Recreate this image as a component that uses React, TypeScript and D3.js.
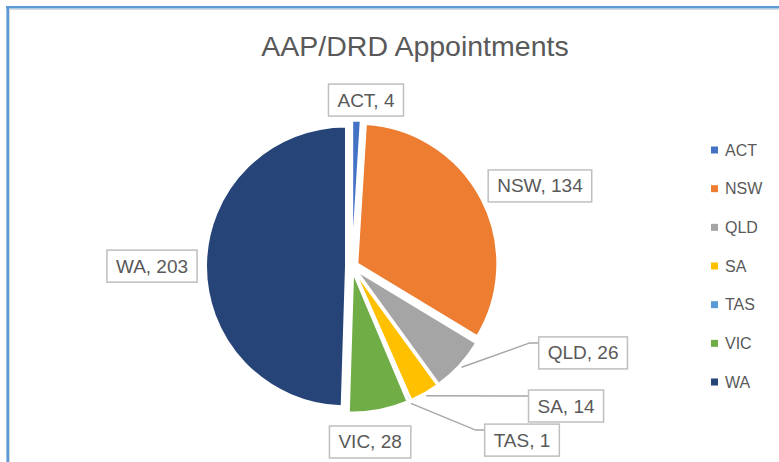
import { useEffect, useRef } from "react";
import * as d3 from "d3";

const states = ["ACT", "NSW", "QLD", "SA", "TAS", "VIC", "WA"];
const appointments = [4, 134, 26, 14, 1, 28, 203];
const sliceColors = ["#4472c4", "#ed7d31", "#a5a5a5", "#ffc000", "#5b9bd5", "#70ad47", "#264478"];

// label placement around the pie (degrees clockwise from 12 o'clock, px from centre)
const labelAngle = [4.8, 66.8, 110.5, 123.1, 135.6, 174.1, 270.1];
const labelDist = [167, 204.5, 246.7, 255.5, 243, 176.4, 200];
const hasLeader = [false, false, true, true, true, false, false];

export default function App() {
  const svgRef = useRef<SVGSVGElement>(null);

  useEffect(() => {
    if (!svgRef.current) return;
    const width = 779;
    const height = 462;
    const svg = d3.select(svgRef.current);
    svg.selectAll("*").remove();
    svg.attr("width", width).attr("height", height);

    const font = "'Liberation Sans', Arial, sans-serif";
    const textColor = "#595959";

    svg.append("rect").attr("width", width).attr("height", height).attr("fill", "#fff");

    // chart area selection border (top + left only visible)
    svg.append("line").attr("x1", 9.5).attr("x2", width).attr("y1", 9.5).attr("y2", 9.5)
      .attr("stroke", "#d9d9d9").attr("stroke-width", 1);
    svg.append("line").attr("x1", 9.5).attr("x2", 9.5).attr("y1", 9.5).attr("y2", height)
      .attr("stroke", "#d9d9d9").attr("stroke-width", 1);
    svg.append("line").attr("x1", 6).attr("x2", width).attr("y1", 7.2).attr("y2", 7.2)
      .attr("stroke", "#5b9bd5").attr("stroke-width", 2.6);
    svg.append("line").attr("x1", 7.7).attr("x2", 7.7).attr("y1", 6).attr("y2", height)
      .attr("stroke", "#5b9bd5").attr("stroke-width", 2.6);

    // title
    svg.append("text")
      .attr("x", 415).attr("y", 56)
      .attr("text-anchor", "middle")
      .style("font-family", font).style("font-size", "28.5px")
      .style("fill", textColor)
      .text("AAP/DRD Appointments");

    // pie
    const cx = 352;
    const cy = 266.5;
    const radius = 140;
    const explode = 6;

    const pie = d3.pie<number>().sort(null).value((d) => d);
    const arcs = pie(appointments);
    const arc = d3.arc<d3.PieArcDatum<number>>().innerRadius(0).outerRadius(radius);

    const g = svg.append("g").attr("transform", `translate(${cx},${cy})`);

    g.selectAll("path.slice")
      .data(arcs)
      .enter()
      .append("path")
      .attr("class", "slice")
      .attr("transform", (d) => {
        const mid = (d.startAngle + d.endAngle) / 2;
        return `translate(${explode * Math.sin(mid)},${-explode * Math.cos(mid)})`;
      })
      .attr("d", arc)
      .style("fill", (d, i) => sliceColors[i])
      .style("stroke", "#fff")
      .style("stroke-width", 2);

    // data labels
    const labels = svg.append("g");
    arcs.forEach((d, i) => {
      const a = (labelAngle[i] * Math.PI) / 180;
      const lx = cx + labelDist[i] * Math.sin(a);
      const ly = cy - labelDist[i] * Math.cos(a);

      const lg = labels.append("g");
      const rect = lg.append("rect");
      const txt = lg.append("text")
        .attr("x", lx).attr("y", ly)
        .attr("text-anchor", "middle")
        .attr("dominant-baseline", "central")
        .style("font-family", font).style("font-size", "19px")
        .style("fill", textColor)
        .text(`${states[i]}, ${appointments[i]}`);
      const tw = (txt.node() as SVGTextElement).getComputedTextLength();
      const bw = tw + 18;
      const bh = 32;
      const bx = lx - bw / 2;
      const by = ly - bh / 2;
      rect.attr("x", bx).attr("y", by).attr("width", bw).attr("height", bh)
        .style("fill", "#fff").style("stroke", "#bfbfbf").style("stroke-width", 1.5);

      if (hasLeader[i]) {
        const mid = (d.startAngle + d.endAngle) / 2;
        const r0 = radius + explode + 3;
        const sx = cx + r0 * Math.sin(mid);
        const sy = cy - r0 * Math.cos(mid);
        const ey = by + 6;
        const path = d3.path();
        path.moveTo(sx, sy);
        path.lineTo(bx - 9, ey);
        path.lineTo(bx, ey);
        labels.insert("path", ":first-child")
          .attr("d", path.toString())
          .style("fill", "none").style("stroke", "#a6a6a6").style("stroke-width", 1.5);
      }
    });

    // legend
    const legendY = d3.scalePoint<string>().domain(states).range([150, 382]);
    const legend = svg.append("g");
    states.forEach((s, i) => {
      const y = legendY(s) as number;
      legend.append("rect")
        .attr("x", 711).attr("y", y - 3.5).attr("width", 7).attr("height", 7)
        .style("fill", sliceColors[i]);
      legend.append("text")
        .attr("x", 725).attr("y", y)
        .attr("dominant-baseline", "central")
        .style("font-family", font).style("font-size", "16px")
        .style("fill", textColor)
        .text(s);
    });
  }, []);

  return <svg ref={svgRef} style={{ position: "absolute", left: 0, top: 0 }}></svg>;
}
